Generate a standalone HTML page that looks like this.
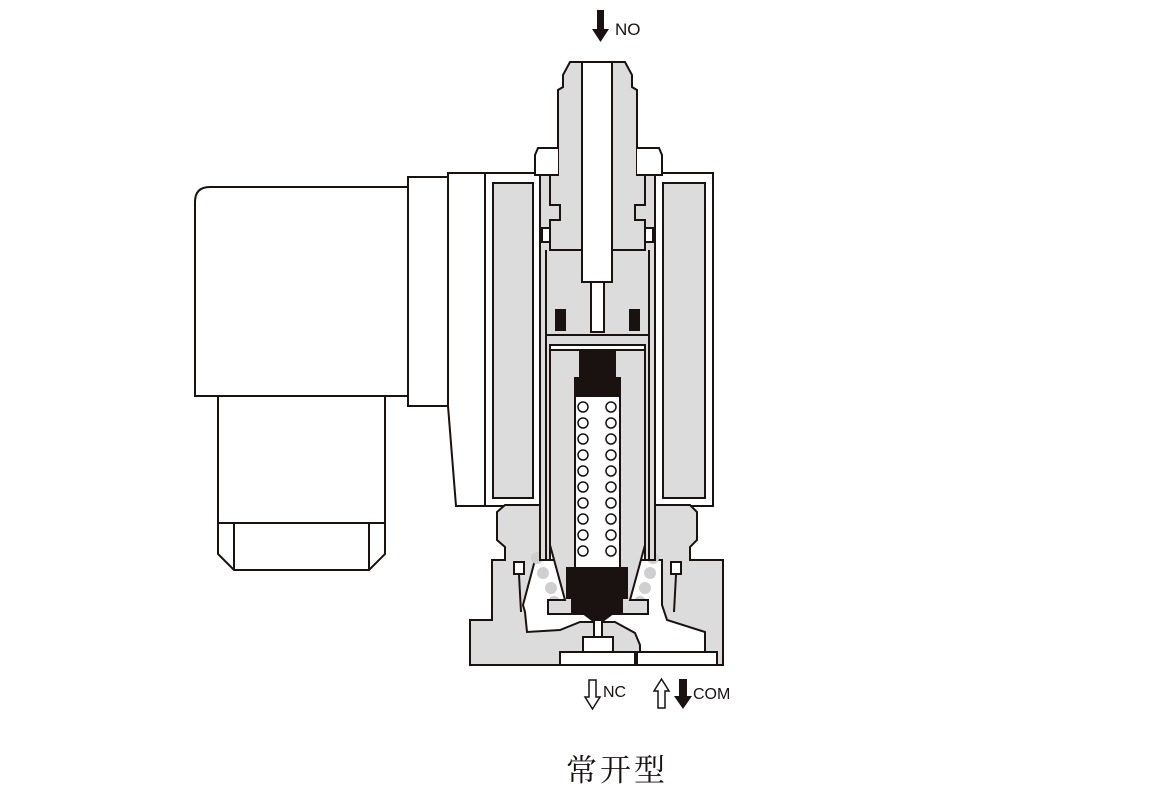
<!DOCTYPE html>
<html><head><meta charset="utf-8"><style>
html,body{margin:0;padding:0;background:#fff;width:1169px;height:807px;overflow:hidden}
svg{display:block}
text{font-family:"Liberation Sans",Arial,sans-serif}
</style></head><body>
<svg width="1169" height="807" viewBox="0 0 1169 807" xmlns="http://www.w3.org/2000/svg">
<g stroke="#1a1111" stroke-width="2" fill="#fff" stroke-linejoin="miter">
<!-- connector -->
<path d="M195,396 L195,202 Q195,187 210,187 L408,187 L408,396 Z"/>
<rect x="218" y="396" width="167" height="127"/>
<path d="M218,523 L218,554 L234,570 L369,570 L385,554 L385,523 Z"/>
<line x1="234" y1="523" x2="234" y2="570"/><line x1="369" y1="523" x2="369" y2="570"/>
<rect x="408" y="177" width="40" height="229"/>
<path d="M448,173 L485,173 L485,506 L456,506 L448,406 Z"/>
<!-- coils -->
<rect x="485" y="173" width="55" height="333"/>
<rect x="493" y="183" width="40" height="315" fill="#dcdcdc"/>
<rect x="655" y="173" width="58" height="333"/>
<rect x="663" y="183" width="42" height="315" fill="#dcdcdc"/>
<!-- base body -->
<path d="M497,512 L505,505 L540,505 L540,560 L655,560 L655,505 L690,505 L697,512 L697,540 L690,547 L690,560 L723,560 L723,665 L470,665 L470,620 L492,620 L492,560 L505,560 L505,547 L497,540 Z" fill="#dcdcdc"/>
<!-- inner cavity -->
<path d="M535,560 L662,560 L662,605 L667,620 L705,632 L705,652 L640,652 L640,645 L635,633 L615,622 L580,622 L560,630 L527,632 L525,612 L523,605 Z" fill="#fff"/>
<circle cx="537" cy="558" r="6" fill="#cfcfcf" stroke="none"/>
<circle cx="543" cy="573" r="6" fill="#cfcfcf" stroke="none"/><circle cx="551" cy="588" r="6" fill="#cfcfcf" stroke="none"/><circle cx="554" cy="602" r="6" fill="#cfcfcf" stroke="none"/>
<circle cx="653" cy="558" r="6" fill="#cfcfcf" stroke="none"/>
<circle cx="650" cy="573" r="6" fill="#cfcfcf" stroke="none"/><circle cx="645" cy="588" r="6" fill="#cfcfcf" stroke="none"/><circle cx="640" cy="602" r="6" fill="#cfcfcf" stroke="none"/>
<rect x="514" y="562" width="10" height="12"/><rect x="671" y="562" width="10" height="12"/>
<line x1="519" y1="575" x2="521" y2="612"/><line x1="676" y1="575" x2="674" y2="612"/>
<rect x="560" y="652" width="75" height="13"/><rect x="637" y="652" width="80" height="13"/>
<rect x="583" y="637" width="30" height="15"/>
<rect x="594" y="615" width="8" height="22"/>
<!-- core tube -->
<path d="M540,175 L655,175 L655,560 L645,560 L645,345 L550,345 L550,560 L540,560 Z" fill="#dcdcdc"/>
<line x1="546" y1="250" x2="546" y2="560"/><line x1="649" y1="250" x2="649" y2="560"/>
<line x1="546" y1="335" x2="649" y2="335"/>
<!-- fitting -->
<path d="M570,62 L625,62 L632,75 L632,87 L637,90 L637,175 L645,175 L645,205 L635,205 L635,220 L645,220 L645,250 L550,250 L550,220 L560,220 L560,205 L550,205 L550,175 L558,175 L558,90 L563,87 L563,75 Z" fill="#dcdcdc"/>
<path d="M558,148 L538,148 L535,155 L535,175 L558,175"/>
<path d="M637,148 L659,148 L662,155 L662,175 L637,175"/>
<rect x="542" y="228" width="8" height="14" fill="#fff"/><rect x="645" y="228" width="8" height="14" fill="#fff"/>
<rect x="551" y="251" width="93" height="83" fill="#dcdcdc" stroke="none"/>
<rect x="582" y="62" width="30" height="220" fill="#fff"/>
<rect x="591" y="282" width="13" height="50" fill="#fff"/>
<rect x="556" y="310" width="9" height="20" fill="#1a1111"/><rect x="630" y="310" width="9" height="20" fill="#1a1111"/>
<!-- plunger -->
<path d="M550,350 L645,350 L645,545 L630,600 L648,600 L648,614 L548,614 L548,600 L565,600 L550,545 Z" fill="#dcdcdc"/>
<rect x="575" y="390" width="45" height="180" fill="#fff"/>
<rect x="580" y="350" width="35" height="45" fill="#1a1111"/>
<rect x="575" y="378" width="45" height="18" fill="#1a1111"/>
<path d="M567,568 L627,568 L627,598 L622,598 L622,614 L612,614 L604,620 L592,620 L584,614 L572,614 L572,598 L567,598 Z" fill="#1a1111"/>
</g>
<g fill="#fff" stroke="#1a1111" stroke-width="1.5">
<circle cx="583" cy="407" r="5"/><circle cx="583" cy="423" r="5"/><circle cx="583" cy="439" r="5"/><circle cx="583" cy="455" r="5"/><circle cx="583" cy="471" r="5"/><circle cx="583" cy="487" r="5"/><circle cx="583" cy="503" r="5"/><circle cx="583" cy="519" r="5"/><circle cx="583" cy="535" r="5"/><circle cx="583" cy="551" r="5"/>
<circle cx="611" cy="407" r="5"/><circle cx="611" cy="423" r="5"/><circle cx="611" cy="439" r="5"/><circle cx="611" cy="455" r="5"/><circle cx="611" cy="471" r="5"/><circle cx="611" cy="487" r="5"/><circle cx="611" cy="503" r="5"/><circle cx="611" cy="519" r="5"/><circle cx="611" cy="535" r="5"/><circle cx="611" cy="551" r="5"/>
</g>
<!-- arrows -->
<path d="M597,10 L604,10 L604,29 L609,29 L600.5,42 L592,29 L597,29 Z" fill="#1a1111"/>
<text x="615" y="35" font-size="17" fill="#1a1111">NO</text>
<path d="M589,680 L596,680 L596,697 L600,697 L592.5,709 L585,697 L589,697 Z" fill="#fff" stroke="#1a1111" stroke-width="1.5"/>
<text x="603" y="697" font-size="16" fill="#1a1111">NC</text>
<path d="M658,708 L665,708 L665,691 L669,691 L661.5,679 L654,691 L658,691 Z" fill="#fff" stroke="#1a1111" stroke-width="1.5"/>
<path d="M679,679 L687,679 L687,696 L692,696 L683,709 L674,696 L679,696 Z" fill="#1a1111"/>
<text x="693" y="699" font-size="16" fill="#1a1111">COM</text>
<text x="617" y="781" font-size="31" text-anchor="middle" fill="#1a1111" style="font-family:'Noto Serif CJK SC','Liberation Serif',serif;letter-spacing:3px">常开型</text>
</svg>
</body></html>
